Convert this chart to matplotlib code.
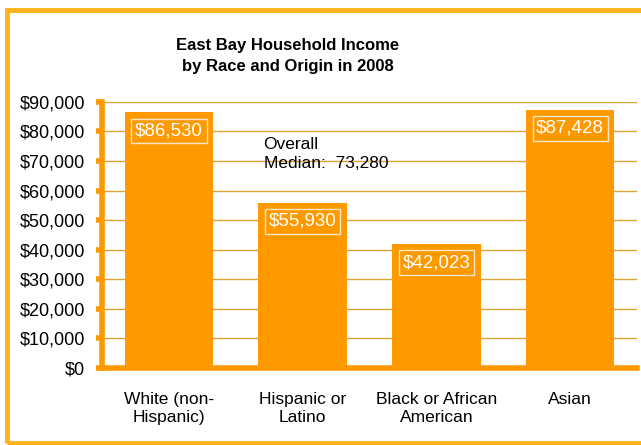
import matplotlib
matplotlib.use("Agg")
import matplotlib.pyplot as plt
from matplotlib.patches import Rectangle
from matplotlib.ticker import FuncFormatter

categories = ["White (non-\nHispanic)", "Hispanic or\nLatino", "Black or African\nAmerican", "Asian"]
incomes = [86530, 55930, 42023, 87428]
overall_median = 73280
yticks = list(range(0, 90001, 10000))

bar_color = "#FF9900"
grid_color = "#DDA335"
frame_color = "#FFB31A"

plt.rcParams["font.family"] = ["Liberation Sans", "DejaVu Sans"]

fig = plt.figure(figsize=(6.41, 4.45), dpi=100)
ax = fig.add_axes([0.159, 0.173, 0.835, 0.598])

x = range(len(categories))
ax.bar(x, incomes, width=0.66, color=bar_color, zorder=2)

# value labels in boxes near bar tops
for i, v in zip(x, incomes):
    ax.annotate("${:,}".format(v), (i, v), xytext=(0, -13.5), textcoords="offset points",
                ha="center", va="center", color="white", fontsize=13.5, zorder=3,
                bbox=dict(boxstyle="square,pad=0.2", fc="none", ec="#F6E7C8", lw=1))

ax.text(0.302, 0.805, "Overall\nMedian:  {:,}".format(overall_median), transform=ax.transAxes,
        fontsize=12.5, va="center", ha="left", color="black", linespacing=1.35)

ax.set_xlim(-0.5, 3.5)
ax.set_ylim(0, 90000)
ax.set_yticks(yticks)
ax.yaxis.set_major_formatter(FuncFormatter(lambda v, p: "${:,}".format(int(v))))
ax.set_xticks(list(x))
ax.set_xticklabels(categories, fontsize=12.5, linespacing=1.3)
ax.tick_params(axis="x", length=0, pad=17)
ax.tick_params(axis="y", length=4, width=4, color=bar_color, labelsize=13, pad=8)

ax.grid(axis="y", color=grid_color, lw=1, zorder=1)
ax.set_axisbelow(True)
for s in ["top", "right"]:
    ax.spines[s].set_visible(False)
ax.spines["left"].set_color(bar_color)
ax.spines["left"].set_linewidth(4)
ax.spines["bottom"].set_color(bar_color)
ax.spines["bottom"].set_linewidth(4)

fig.text(0.449, 0.874, "East Bay Household Income\nby Race and Origin in 2008", ha="center", va="center",
         fontsize=12, fontweight="bold", linespacing=1.55)

# outer frame
fig.patches.append(Rectangle((0.0109, 0.0045), 1.1, 0.973, transform=fig.transFigure,
                             fill=False, ec=frame_color, lw=3.5))

fig.savefig("out.png", dpi=100)
